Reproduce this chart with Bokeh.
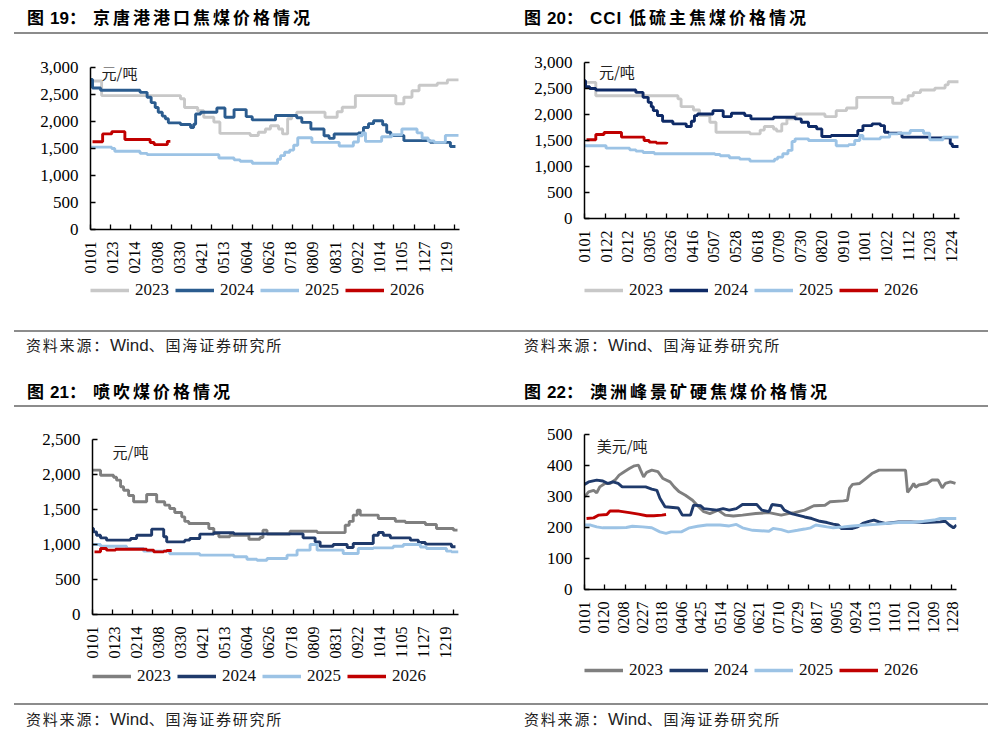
import math
from datetime import date
from bokeh.plotting import figure
from bokeh.models import Range1d, FixedTicker, NumeralTickFormatter, Legend, LegendItem, Label, Div
from bokeh.layouts import column, row
from bokeh.embed import file_html
from bokeh.resources import INLINE

# ---------------- data ----------------
years = ["2023", "2024", "2025", "2026"]

# 图19 京唐港港口焦煤价格 (元/吨), x = day of year, step values
p1_2023_day = [0, 11, 89, 93, 106, 112, 122, 128, 158, 166, 173, 178, 186, 190, 195, 199, 204, 232, 244, 249, 262, 302, 310, 318, 325, 343, 353, 364]
p1_2023_val = [2750, 2480, 2420, 2260, 2200, 2080, 1990, 1780, 1740, 1800, 1860, 1920, 1860, 1770, 2050, 2110, 2170, 2080, 2180, 2265, 2480, 2330, 2450, 2570, 2670, 2710, 2770, 2770]
p1_2024_day = [0, 2, 10, 49, 56, 60, 64, 67, 71, 74, 77, 89, 99, 102, 104, 109, 125, 133, 142, 154, 160, 183, 204, 209, 218, 231, 236, 241, 265, 270, 275, 280, 289, 293, 297, 310, 336, 356, 361]
p1_2024_val = [2780, 2620, 2580, 2540, 2450, 2350, 2260, 2170, 2100, 2050, 1975, 1945, 1890, 1950, 2140, 2172, 2250, 2080, 2220, 2090, 2030, 2110, 2070, 1984, 1860, 1737, 1688, 1768, 1790, 1890, 1960, 2014, 1940, 1800, 1741, 1645, 1614, 1537, 1537]
p1_2025_day = [0, 21, 24, 49, 56, 127, 142, 148, 160, 185, 188, 192, 197, 201, 205, 219, 246, 260, 265, 269, 272, 288, 298, 308, 323, 328, 334, 340, 351, 364]
p1_2025_val = [1525, 1500, 1450, 1410, 1386, 1324, 1290, 1263, 1226, 1300, 1368, 1430, 1470, 1560, 1700, 1614, 1546, 1620, 1737, 1790, 1632, 1718, 1755, 1860, 1790, 1694, 1640, 1614, 1743, 1743]
p1_2026_day = [2, 12, 21, 34, 59, 63, 76, 79]
p1_2026_val = [1625, 1770, 1812, 1668, 1610, 1572, 1632, 1632]
p1_labels = ["0101", "0123", "0214", "0308", "0330", "0421", "0513", "0604", "0626", "0718", "0809", "0831", "0922", "1014", "1105", "1127", "1219"]

# 图20 CCI 低硫主焦煤价格 (元/吨)
p2_2023_day = [0, 11, 91, 94, 106, 112, 122, 128, 161, 171, 175, 184, 187, 192, 197, 206, 234, 245, 255, 265, 300, 309, 315, 320, 327, 341, 351, 354, 364]
p2_2023_val = [2617, 2362, 2300, 2151, 2087, 1979, 1851, 1660, 1628, 1700, 1768, 1720, 1680, 1819, 1915, 2010, 1960, 2074, 2125, 2330, 2215, 2280, 2362, 2420, 2470, 2508, 2570, 2630, 2630]
p2_2024_day = [0, 1, 5, 11, 50, 57, 62, 65, 67, 71, 76, 86, 99, 104, 107, 110, 125, 135, 143, 156, 162, 184, 205, 211, 218, 226, 231, 240, 266, 271, 280, 288, 292, 296, 309, 336, 356, 358, 364]
p2_2024_val = [2650, 2534, 2500, 2470, 2425, 2330, 2234, 2150, 2074, 1980, 1870, 1820, 1768, 1870, 1979, 2010, 2074, 1960, 2023, 1979, 1915, 1947, 1915, 1851, 1768, 1723, 1577, 1596, 1691, 1787, 1820, 1787, 1660, 1640, 1564, 1551, 1436, 1385, 1385]
p2_2025_day = [0, 21, 44, 50, 57, 68, 127, 132, 141, 151, 161, 185, 188, 193, 198, 202, 205, 218, 245, 257, 263, 268, 271, 288, 297, 305, 317, 330, 336, 349, 364]
p2_2025_val = [1398, 1353, 1320, 1296, 1270, 1245, 1230, 1206, 1168, 1142, 1104, 1142, 1181, 1245, 1310, 1480, 1532, 1500, 1398, 1420, 1500, 1596, 1532, 1564, 1628, 1640, 1691, 1640, 1513, 1564, 1564]
p2_2026_day = [2, 11, 19, 36, 58, 63, 70, 80]
p2_2026_val = [1513, 1615, 1653, 1564, 1500, 1468, 1449, 1470]
p2_labels = ["0101", "0122", "0212", "0305", "0326", "0416", "0507", "0528", "0618", "0709", "0730", "0820", "0910", "1001", "1022", "1112", "1203", "1224"]

# 图21 喷吹煤价格 (元/吨)
p3_2023_day = [0, 8, 21, 24, 28, 31, 36, 41, 54, 64, 72, 77, 82, 89, 92, 96, 116, 121, 126, 137, 156, 167, 170, 174, 197, 224, 252, 256, 260, 264, 267, 285, 302, 312, 332, 343, 360, 364]
p3_2023_val = [2062, 1990, 1960, 1919, 1824, 1776, 1700, 1610, 1714, 1610, 1562, 1514, 1457, 1395, 1330, 1300, 1229, 1157, 1110, 1133, 1076, 1100, 1205, 1150, 1190, 1170, 1276, 1330, 1420, 1490, 1420, 1371, 1333, 1314, 1286, 1229, 1205, 1205]
p3_2024_day = [0, 1, 4, 8, 14, 38, 44, 59, 71, 74, 92, 97, 107, 121, 141, 210, 222, 227, 240, 254, 260, 280, 285, 290, 297, 317, 325, 332, 358, 362]
p3_2024_val = [1229, 1181, 1133, 1095, 1062, 1086, 1133, 1219, 1110, 1038, 1062, 1086, 1148, 1167, 1152, 1095, 1038, 976, 1000, 957, 1014, 1133, 1171, 1133, 1095, 1062, 1029, 1005, 967, 967]
p3_2025_day = [0, 8, 34, 51, 77, 107, 141, 154, 164, 174, 194, 204, 217, 224, 250, 265, 280, 300, 310, 327, 333, 353, 358, 365]
p3_2025_val = [1000, 976, 943, 905, 867, 848, 824, 790, 776, 800, 848, 919, 1000, 919, 871, 943, 952, 976, 1000, 965, 943, 905, 895, 895]
p3_2026_day = [2, 8, 14, 23, 54, 61, 71, 74, 79]
p3_2026_val = [895, 943, 919, 933, 920, 895, 905, 914, 914]
p3_labels = ["0101", "0123", "0214", "0308", "0330", "0421", "0513", "0604", "0626", "0718", "0809", "0831", "0922", "1014", "1105", "1127", "1219"]

# 图22 澳洲峰景矿硬焦煤价格 (美元/吨)
p4_2023_day = [0, 4, 9, 12, 15, 20, 25, 30, 34, 39, 44, 49, 53, 55, 58, 61, 66, 72, 77, 84, 88, 93, 99, 106, 112, 117, 123, 131, 138, 146, 155, 168, 181, 193, 200, 206, 216, 225, 236, 241, 254, 258, 260, 263, 270, 276, 282, 289, 298, 311, 315, 317, 320, 323, 325, 328, 336, 341, 347, 351, 354, 359, 364]
p4_2023_val = [299, 315, 320, 312, 331, 342, 342, 353, 369, 380, 390, 399, 401, 385, 363, 378, 385, 380, 358, 347, 331, 315, 304, 288, 267, 251, 245, 256, 240, 237, 240, 245, 248, 240, 245, 248, 256, 270, 272, 283, 286, 288, 326, 339, 342, 358, 374, 385, 385, 385, 385, 313, 326, 342, 330, 337, 342, 353, 353, 328, 342, 347, 342]
p4_2024_day = [0, 4, 12, 18, 23, 28, 33, 37, 47, 53, 60, 66, 71, 74, 79, 92, 96, 104, 107, 114, 117, 130, 136, 142, 149, 155, 169, 174, 181, 184, 193, 196, 203, 209, 216, 223, 231, 238, 244, 249, 252, 263, 268, 273, 279, 284, 289, 295, 308, 320, 333, 349, 354, 358, 362, 365]
p4_2024_val = [339, 347, 353, 350, 342, 347, 342, 331, 331, 331, 331, 324, 320, 294, 267, 263, 240, 240, 272, 270, 261, 256, 261, 256, 261, 274, 274, 256, 251, 274, 270, 256, 245, 240, 234, 229, 220, 216, 211, 208, 197, 197, 202, 213, 220, 224, 218, 213, 218, 218, 216, 218, 220, 208, 199, 208]
p4_2025_day = [0, 6, 12, 18, 31, 41, 47, 57, 66, 74, 80, 85, 95, 103, 111, 120, 133, 142, 149, 155, 165, 181, 185, 193, 200, 209, 216, 222, 227, 238, 244, 254, 263, 276, 286, 295, 308, 321, 333, 343, 349, 365]
p4_2025_val = [208, 208, 202, 199, 199, 200, 204, 202, 199, 186, 181, 186, 186, 199, 204, 208, 208, 205, 210, 199, 191, 188, 197, 193, 186, 191, 195, 199, 208, 202, 199, 202, 205, 208, 210, 213, 216, 216, 220, 224, 229, 229]
p4_2026_day = [2, 9, 14, 22, 25, 34, 44, 53, 61, 68, 76, 80]
p4_2026_val = [229, 231, 240, 242, 253, 253, 248, 243, 238, 238, 240, 242]
p4_labels = ["0101", "0120", "0208", "0227", "0318", "0406", "0425", "0514", "0602", "0621", "0710", "0729", "0817", "0905", "0924", "1013", "1101", "1120", "1209", "1228"]

tick_days = list(range(0, 361, 20))


def doy(s):
    return (date(2023, int(s[:2]), int(s[2:])) - date(2023, 1, 1)).days


CJK = "Noto Sans CJK SC"
SERIF = "'Liberation Serif'"
LW = 2.9


def make_fig(width, height, lb, rb, tb, bb, ymax, ystep, labels, series, colors, kind,
             unit, unit_x, unit_y):
    p = figure(width=width, height=height, x_range=Range1d(0, 365), y_range=Range1d(0, ymax),
               output_backend="svg", toolbar_location=None,
               min_border_left=lb, min_border_right=rb, min_border_top=tb, min_border_bottom=bb,
               background_fill_color="white", border_fill_color="white", outline_line_color=None)
    p.xgrid.visible = False
    p.ygrid.visible = False
    label_days = [doy(s) for s in labels]
    xa = p.xaxis[0]
    xa.ticker = FixedTicker(ticks=label_days, minor_ticks=tick_days)
    xa.major_label_overrides = {d: s for d, s in zip(label_days, labels)}
    xa.major_tick_line_color = None
    xa.major_tick_in = 0
    xa.major_tick_out = 0
    xa.minor_tick_line_color = "black"
    xa.minor_tick_line_width = 1.3
    xa.minor_tick_in = 5
    xa.minor_tick_out = 0
    xa.axis_line_width = 1.5
    xa.axis_line_color = "black"
    xa.major_label_orientation = math.pi / 2
    xa.major_label_text_font = SERIF
    xa.major_label_text_font_size = "16px"
    xa.major_label_text_color = "black"
    xa.major_label_standoff = 12

    ya = p.yaxis[0]
    ya.ticker = FixedTicker(ticks=list(range(0, ymax + 1, ystep)))
    ya.formatter = NumeralTickFormatter(format="0,0")
    ya.major_tick_in = 5
    ya.major_tick_out = 0
    ya.major_tick_line_width = 1.3
    ya.minor_tick_line_color = None
    ya.axis_line_width = 1.5
    ya.axis_line_color = "black"
    ya.major_label_text_font = SERIF
    ya.major_label_text_font_size = "17px"
    ya.major_label_text_color = "black"
    ya.major_label_standoff = 12

    for (d, v), c in zip(series, colors):
        if kind == "step":
            p.step(d, v, mode="after", line_color=c, line_width=LW)
        else:
            p.line(d, v, line_color=c, line_width=LW)

    p.add_layout(Label(x=unit_x, y=unit_y, text=unit, text_font=CJK, text_font_size="15px",
                       text_baseline="middle", text_color="#222222"))
    return p


def legend_fig(width, height, left, top, series, colors):
    p = figure(width=width, height=height, x_range=Range1d(0, 365), y_range=Range1d(0, 1),
               output_backend="svg", toolbar_location=None,
               x_axis_location=None, y_axis_location=None,
               min_border_left=left, min_border_top=top, min_border_right=0, min_border_bottom=0,
               background_fill_color="white", border_fill_color="white", outline_line_color=None)
    p.xgrid.visible = False
    p.ygrid.visible = False
    items = []
    for yr, (d, v), c in zip(years, series, colors):
        r = p.line(d, v, line_color=c, line_width=3.3, visible=False)
        items.append(LegendItem(label=yr, renderers=[r]))
    leg = Legend(items=items, orientation="horizontal", location="top_left",
                 glyph_width=39, glyph_height=20, label_standoff=6, spacing=6,
                 padding=0, margin=0, border_line_color=None, background_fill_alpha=0,
                 inactive_fill_alpha=0,
                 label_text_font=SERIF, label_text_font_size="17px", label_text_color="#111111")
    p.add_layout(leg)
    return p


def title_div(width, num, rest, height, text_left, rule_left, rule_width, rule_top, text_top):
    html = (
        f'<div style="position:relative;width:{width}px;height:{height}px;">'
        f'<div style="position:absolute;left:{rule_left}px;top:{rule_top}px;width:{rule_width}px;'
        f'height:2px;background:#8c8c8c;"></div>'
        f'<div style="position:absolute;left:{text_left}px;top:{text_top}px;white-space:nowrap;'
        f'font-size:17px;line-height:17px;font-weight:bold;color:#000;font-family:\'{CJK}\';">'
        f'图<span style="font-family:\'Liberation Sans\';margin-left:6px;">{num}</span>：'
        f'<span style="letter-spacing:3px;margin-left:7px;">{rest}</span></div>'
        f'</div>'
    )
    return Div(text=html, width=width, height=height, margin=0)


def source_div(width, height, text_left, rule_left, rule_width, text_top):
    html = (
        f'<div style="position:relative;width:{width}px;height:{height}px;">'
        f'<div style="position:absolute;left:{rule_left}px;top:0px;width:{rule_width}px;'
        f'height:2px;background:#8c8c8c;"></div>'
        f'<div style="position:absolute;left:{text_left}px;top:{text_top}px;white-space:nowrap;'
        f'font-size:15px;line-height:15px;color:#222;font-family:\'{CJK}\';letter-spacing:1.8px;">'
        f'资料来源：<span style="font-family:\'Liberation Sans\';font-size:17px;letter-spacing:0px;">Wind</span>、国海证券研究所'
        f'</div></div>'
    )
    return Div(text=html, width=width, height=height, margin=0)


c_light = ["#C8C8C8", "#2B5C8F", "#9CC3E5", "#C00000"]
c_light2 = ["#C8C8C8", "#0E2A66", "#9CC3E5", "#C00000"]
c_dark = ["#7F7F7F", "#1F3A6B", "#9CC3E5", "#C00000"]

s1 = [(p1_2023_day, p1_2023_val), (p1_2024_day, p1_2024_val), (p1_2025_day, p1_2025_val), (p1_2026_day, p1_2026_val)]
s2 = [(p2_2023_day, p2_2023_val), (p2_2024_day, p2_2024_val), (p2_2025_day, p2_2025_val), (p2_2026_day, p2_2026_val)]
s3 = [(p3_2023_day, p3_2023_val), (p3_2024_day, p3_2024_val), (p3_2025_day, p3_2025_val), (p3_2026_day, p3_2026_val)]
s4 = [(p4_2023_day, p4_2023_val), (p4_2024_day, p4_2024_val), (p4_2025_day, p4_2025_val), (p4_2026_day, p4_2026_val)]

WL, WR = 496, 495

f1 = make_fig(WL, 246, 90, 37, 33, 51, 3000, 500, p1_labels, s1, c_light, "step", "元/吨", 11, 2907)
f2 = make_fig(WR, 236, 88, 32, 28, 52, 3000, 500, p2_labels, s2, c_light2, "step", "元/吨", 14, 2822)
f3 = make_fig(WL, 255, 92, 38, 31, 49, 2500, 500, p3_labels, s3, c_dark, "step", "元/吨", 20, 2333)
f4 = make_fig(WR, 232, 77, 35, 26, 51, 500, 100, p4_labels, s4, c_dark, "line", "美元/吨", 12, 465)

l1 = legend_fig(WL, 50, 86, 0, s1, c_light)
l2 = legend_fig(WR, 60, 87, 10, s2, c_light2)
l3 = legend_fig(WL, 40, 86, 3, s3, c_dark)
l4 = legend_fig(WR, 63, 88, 20, s4, c_dark)

panel1 = column(title_div(WL, "19", "京唐港港口焦煤价格情况", 34, 27, 14, 482, 32, 8), f1, l1,
                source_div(WL, 52, 26, 14, 482, 7), spacing=0)
panel2 = column(title_div(WR, "20", '<span style="font-family:\'Liberation Sans\';letter-spacing:1px;">CCI</span> 低硫主焦煤价格情况', 34, 28, 0, 492, 32, 8), f2, l2,
                source_div(WR, 52, 28, 0, 492, 7), spacing=0)
panel3 = column(title_div(WL, "21", "喷吹煤价格情况", 26, 27, 14, 482, 23, 0), f3, l3,
                source_div(WL, 32, 26, 14, 482, 8), spacing=0)
panel4 = column(title_div(WR, "22", "澳洲峰景矿硬焦煤价格情况", 26, 28, 0, 492, 23, 0), f4, l4,
                source_div(WR, 32, 28, 0, 492, 8), spacing=0)

layout = column(row(panel1, panel2, spacing=0), row(panel3, panel4, spacing=0), spacing=0)

open("out.html", "w").write(file_html(layout, INLINE))
